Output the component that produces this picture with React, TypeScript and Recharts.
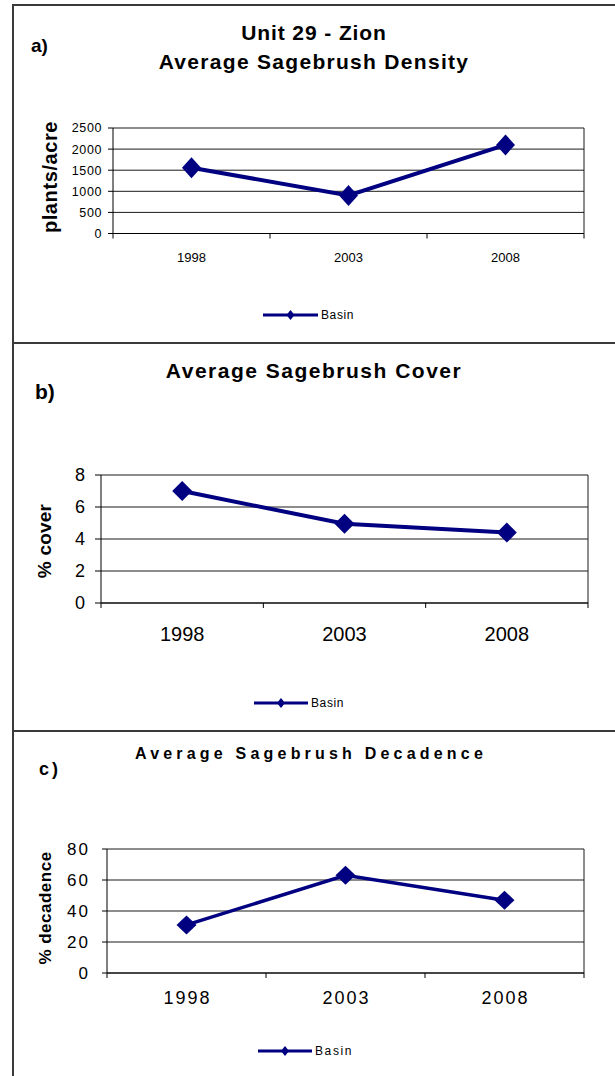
import { CartesianGrid, Legend, Line, LineChart, XAxis, YAxis } from "recharts";

const years = ["1998", "2003", "2008"];
const densityValues = [1560, 900, 2100];
const coverValues = [7.0, 4.95, 4.4];
const decadenceValues = [31, 63, 47];
const densityTicks = [0, 500, 1000, 1500, 2000, 2500];
const coverTicks = [0, 2, 4, 6, 8];
const decadenceTicks = [0, 20, 40, 60, 80];
const seriesName = "Basin";

const FONT = '"Liberation Sans", Arial, Helvetica, sans-serif';
const NAVY = "#000080";
const GRID = "#1a1a1a";
const W = 615;

type Panel = {
  top: number;
  height: number;
  values: number[];
  ticks: number[];
  plot: { left: number; right: number; top: number; bottom: number };
  yLabel: string;
  yLabelSize: number;
  yLabelPos: [number, number];
  yLabelSpacing: number;
  yTickSize: number;
  yTickSpacing: number;
  yTickLen: number;
  yTickGap: number;
  xTickSize: number;
  xTickSpacing: number;
  xLabelY: number;
  dot: [number, number];
  lineWidth: number;
  legend: { x: number; y: number; w: number; spacing: number };
};

const panels: Panel[] = [
  {
    top: 0,
    height: 343,
    values: densityValues,
    ticks: densityTicks,
    plot: { left: 113, right: 584, top: 128, bottom: 233.5 },
    yLabel: "plants/acre",
    yLabelSize: 20,
    yLabelPos: [50, 177],
    yLabelSpacing: 0.6,
    yTickSize: 12.5,
    yTickSpacing: 0.6,
    yTickLen: 5,
    yTickGap: 6,
    xTickSize: 13,
    xTickSpacing: 0,
    xLabelY: 257,
    dot: [9.5, 10.5],
    lineWidth: 4,
    legend: { x: 263, y: 315, w: 55, spacing: 0.6 },
  },
  {
    top: 343,
    height: 388,
    values: coverValues,
    ticks: coverTicks,
    plot: { left: 101, right: 588, top: 132, bottom: 260 },
    yLabel: "% cover",
    yLabelSize: 19,
    yLabelPos: [44, 198],
    yLabelSpacing: 0.2,
    yTickSize: 18,
    yTickSpacing: 0,
    yTickLen: 6,
    yTickGap: 10,
    xTickSize: 20,
    xTickSpacing: 0,
    xLabelY: 291,
    dot: [10, 10],
    lineWidth: 4,
    legend: { x: 254, y: 360, w: 54, spacing: 0.6 },
  },
  {
    top: 731,
    height: 345,
    values: decadenceValues,
    ticks: decadenceTicks,
    plot: { left: 107, right: 584, top: 118, bottom: 242 },
    yLabel: "% decadence",
    yLabelSize: 17,
    yLabelPos: [45, 177],
    yLabelSpacing: 0.5,
    yTickSize: 17,
    yTickSpacing: 2,
    yTickLen: 5,
    yTickGap: 12,
    xTickSize: 18,
    xTickSpacing: 2,
    xLabelY: 267,
    dot: [10, 9.5],
    lineWidth: 3.5,
    legend: { x: 258, y: 320, w: 54, spacing: 1.6 },
  },
];

function Chart({ p }: { p: Panel }) {
  const data = years.map((year, i) => ({ year, value: p.values[i] }));
  const yAxisW = 60;
  const xAxisH = 30;
  const half = (p.plot.right - p.plot.left) / 6;
  const [hw, hh] = p.dot;

  const xTick = (props: any) => {
    const { x, payload, index } = props;
    const y0 = p.plot.bottom;
    return (
      <g>
        <line x1={x - half} x2={x - half} y1={y0} y2={y0 + 5} stroke="#000" />
        {index === years.length - 1 && <line x1={x + half} x2={x + half} y1={y0} y2={y0 + 5} stroke="#000" />}
        <text
          x={x + p.xTickSpacing / 2}
          y={p.xLabelY + 0.358 * p.xTickSize}
          textAnchor="middle"
          fontSize={p.xTickSize}
          fontFamily={FONT}
          letterSpacing={p.xTickSpacing}
          fill="#000"
        >
          {payload.value}
        </text>
      </g>
    );
  };

  const diamond = (props: any) => {
    const { cx, cy, index } = props;
    if (cx == null || cy == null) return <g key={index} />;
    return (
      <polygon
        key={index}
        points={`${cx},${cy - hh} ${cx + hw},${cy} ${cx},${cy + hh} ${cx - hw},${cy}`}
        fill={NAVY}
      />
    );
  };

  const [lx, ly] = p.yLabelPos;

  return (
    <div style={{ position: "absolute", left: 0, top: p.top }}>
      <LineChart
        width={W}
        height={p.height}
        data={data}
        margin={{
          top: p.plot.top,
          right: W - p.plot.right,
          left: p.plot.left - yAxisW,
          bottom: p.height - p.plot.bottom - xAxisH,
        }}
      >
        <CartesianGrid
          stroke={GRID}
          vertical
          verticalCoordinatesGenerator={(g: any) => [g.offset.left + g.offset.width]}
        />
        <XAxis
          dataKey="year"
          height={xAxisH}
          padding={{ left: half, right: half }}
          axisLine={{ stroke: "#000" }}
          tickLine={false}
          interval={0}
          tick={xTick}
        />
        <YAxis
          width={yAxisW}
          domain={[p.ticks[0], p.ticks[p.ticks.length - 1]]}
          ticks={p.ticks}
          interval={0}
          axisLine={{ stroke: "#000" }}
          tickLine={{ stroke: "#000" }}
          tickSize={p.yTickLen}
          tickMargin={p.yTickGap}
          tick={{ fill: "#000", fontSize: p.yTickSize, fontFamily: FONT, letterSpacing: p.yTickSpacing }}
          label={{
            content: () => (
              <text
                x={lx}
                y={ly}
                transform={`rotate(-90, ${lx}, ${ly})`}
                textAnchor="middle"
                dominantBaseline="central"
                fontSize={p.yLabelSize}
                fontWeight="bold"
                fontFamily={FONT}
                letterSpacing={p.yLabelSpacing}
                fill="#000"
              >
                {p.yLabel}
              </text>
            ),
          }}
        />
        <Legend
          layout="horizontal"
          verticalAlign="middle"
          align="center"
          wrapperStyle={{ left: p.legend.x, top: p.legend.y - 8, width: 140, height: 16 }}
          content={() => (
            <div style={{ display: "flex", alignItems: "center", height: 16 }}>
              <svg width={p.legend.w} height={12} style={{ display: "block" }}>
                <line x1={0} x2={p.legend.w} y1={6} y2={6} stroke={NAVY} strokeWidth={3} />
                <polygon
                  points={`${p.legend.w / 2},1 ${p.legend.w / 2 + 4},6 ${p.legend.w / 2},11 ${p.legend.w / 2 - 4},6`}
                  fill={NAVY}
                />
              </svg>
              <span
                style={{
                  marginLeft: 3,
                  fontFamily: FONT,
                  fontSize: 12,
                  letterSpacing: p.legend.spacing,
                  color: "#000",
                  lineHeight: "16px",
                }}
              >
                {seriesName}
              </span>
            </div>
          )}
        />
        <Line
          dataKey="value"
          name={seriesName}
          type="linear"
          stroke={NAVY}
          strokeWidth={p.lineWidth}
          dot={diamond}
          activeDot={false}
          isAnimationActive={false}
        />
      </LineChart>
    </div>
  );
}

const textBase = {
  position: "absolute" as const,
  fontFamily: FONT,
  fontWeight: "bold" as const,
  color: "#000",
  whiteSpace: "nowrap" as const,
  lineHeight: 1,
};

export default function App() {
  return (
    <div
      style={{
        position: "absolute",
        left: 0,
        top: 0,
        width: W,
        height: 1076,
        overflow: "hidden",
        background: "#fff",
      }}
    >
      {/* frame lines */}
      <div style={{ position: "absolute", left: 12, top: 4, width: W - 12, height: 2, background: "#3a3a3a" }} />
      <div style={{ position: "absolute", left: 12, top: 4, width: 1.5, height: 1076, background: "#3a3a3a" }} />
      <div style={{ position: "absolute", left: 12, top: 342, width: W - 12, height: 2, background: "#3a3a3a" }} />
      <div style={{ position: "absolute", left: 12, top: 730, width: W - 12, height: 2, background: "#3a3a3a" }} />

      {panels.map((p, i) => (
        <Chart key={i} p={p} />
      ))}

      <div style={{ ...textBase, left: 31, top: 36, fontSize: 19 }}>a)</div>
      <div style={{ ...textBase, left: 314, top: 21.5, fontSize: 21, letterSpacing: 0.9, transform: "translateX(-50%)" }}>
        Unit 29 - Zion
      </div>
      <div style={{ ...textBase, left: 314, top: 50.5, fontSize: 21, letterSpacing: 1.3, transform: "translateX(-50%)" }}>
        Average Sagebrush Density
      </div>

      <div style={{ ...textBase, left: 35, top: 381, fontSize: 21 }}>b)</div>
      <div style={{ ...textBase, left: 314, top: 359.5, fontSize: 21, letterSpacing: 1.5, transform: "translateX(-50%)" }}>
        Average Sagebrush Cover
      </div>

      <div style={{ ...textBase, left: 39, top: 760, fontSize: 18, letterSpacing: 3 }}>c)</div>
      <div style={{ ...textBase, left: 311, top: 745.5, fontSize: 16, letterSpacing: 4.2, transform: "translateX(-50%)" }}>
        Average Sagebrush Decadence
      </div>
    </div>
  );
}
